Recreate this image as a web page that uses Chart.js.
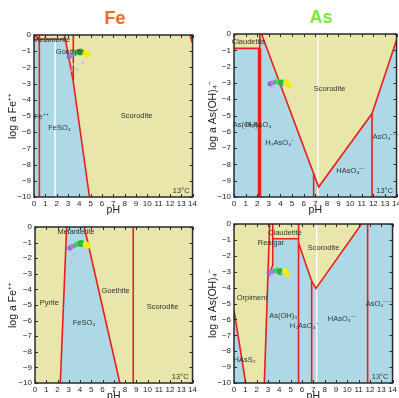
<!DOCTYPE html>
<html>
<head>
<meta charset="utf-8">
<script src="https://cdn.jsdelivr.net/npm/chart.js@4.4.1/dist/chart.umd.min.js"></script>
<style>
  html, body { margin: 0; padding: 0; background: #fff; width: 399px; height: 398px; overflow: hidden; position: relative; }
  .box { position: absolute; }
  .ttl { position: absolute; width: 60px; text-align: center; line-height: 20px; font: bold 18px "Liberation Sans", Arial, sans-serif; }
</style>
</head>
<body>
<div class="ttl" style="left:85px;top:8px;color:#ff6a1a;">Fe</div>
<div class="ttl" style="left:291px;top:7px;color:#80e63a;">As</div>
<div class="box" style="left:0px;top:27px;width:199px;height:190px;"><canvas id="feTop"></canvas></div>
<div class="box" style="left:200px;top:26px;width:203px;height:191px;"><canvas id="asTop"></canvas></div>
<div class="box" style="left:1px;top:219px;width:198px;height:184px;"><canvas id="feBot"></canvas></div>
<div class="box" style="left:200px;top:216px;width:199px;height:187px;"><canvas id="asBot"></canvas></div>
<script>
// axes
const xTickLabels = ['0','1','2','3','4','5','6','7','8','9','10','11','12','13','14'];
const yTickValues = [0, -1, -2, -3, -4, -5, -6, -7, -8, -9, -10];
const yTickLabels = ['0','−1','−2','−3','−4','−5','−6','−7','−8','−9','−10'];

// sample points (pH, log a Fe++, log a As(OH)4-)
const samplePH    = [3.1, 3.3, 3.6, 3.8, 4.1, 4.5, 4.7, 3.4, 3.8, 4.3, 3.2];
const sampleLogFe = [-1.35, -1.25, -1.15, -1.05, -1.05, -1.1, -1.2, -1.8, -2.1, -1.7, -2.2];
const sampleLogAs = [-3.05, -3.0, -2.95, -2.9, -3.0, -2.95, -3.15, -3.2, -3.25, -3.1, -3.3];
const sampleColors = ['#9a5fd0', '#b07ad8', '#4bb38a', '#5cc85a', '#22b83a', '#f2f20a', '#f0ea1a',
                      '#d2b4e6', '#dcc0e8', '#d8bce6', '#cdb0e0'];

// Fe, top panel
const feTopAqueous = [[0, -0.27], [2.77, -0.27], [3.45, -2.8], [4.9, -10], [0, -10]];
const feTopLines = [
  [[0.47, 0], [0.47, -10]],
  [[2.7, 0], [3.45, -2.8], [4.9, -10]],
  [[3.47, 0], [3.47, -2.8]],
  [[0, -0.27], [2.77, -0.27]],
  [[0.05, 0], [0.47, -0.27]],
  [[13.8, 0], [13.9, -0.3], [14, 0]]
];
const feTopFaint = [[[1.85, 0], [1.85, -10]]];
const feTopNames = ['Melanterite', 'Goethite', 'Fe⁺⁺', 'FeSO₄', 'Scorodite', '13°C'];
const feTopNameX = [1.55, 3.18, 0.65, 2.26, 9.06, 13.0];
const feTopNameY = [-0.3, -1.07, -5.08, -5.76, -4.98, -9.6];

// As, top panel
const asTopClaudetite = [[0, 0], [2.22, 0], [2.22, -0.88], [0, -0.88]];
const asTopScorodite = [[2.37, 0], [14, 0], [14, -0.37], [11.89, -4.88], [7.29, -9.39]];
const asTopLines = [
  [[0, -0.88], [2.22, -0.88]],
  [[2.22, 0], [2.22, -0.88]],
  [[2.37, 0], [7.29, -9.39], [11.89, -4.88], [14, -0.37]],
  [[6.86, -8.57], [6.86, -10]],
  [[11.89, -4.88], [11.89, -10]]
];
const asTopThick = [[[2.2, -0.88], [2.2, -10]]];
const asTopFaint = [[[7.23, 0], [7.23, -10]]];
const asTopNames = ['Claudetite', 'Scorodite', 'As(OH)₃', 'H₃AsO₄', 'H₂AsO₄⁻', 'HAsO₄⁻⁻', 'AsO₄⁻⁻⁻', '13°C'];
const asTopNameX = [1.26, 8.23, 1.1, 2.1, 3.94, 10.06, 13.1, 12.97];
const asTopNameY = [-0.49, -3.37, -5.59, -5.59, -6.71, -8.43, -6.3, -9.6];

// Fe, bottom panel
const feBotAqueous = [[2.81, 0], [4.38, 0], [7.54, -10], [2.25, -10]];
const feBotLines = [
  [[2.81, 0], [2.25, -10]],
  [[4.38, 0], [7.54, -10]],
  [[8.73, 0], [8.73, -10]]
];
const feBotNames = ['Melanterite', 'Goethite', 'Pyrite', 'Scorodite', 'FeSO₄', '13°C'];
const feBotNameX = [3.64, 7.16, 1.27, 11.33, 4.35, 12.9];
const feBotNameY = [-0.32, -4.1, -4.87, -5.13, -6.15, -9.6];

// As, bottom panel
const asBotOrpiment = [[0, 0], [3.15, 0], [2.68, -10], [1.03, -10], [0, -5.42]];
const asBotRealgar = [[3.15, 0], [3.42, 0], [3.42, -2.6], [3.0, -3.3]];
const asBotClaudetite = [[3.42, 0], [5.7, 0], [5.7, -0.93], [3.42, -0.93]];
const asBotScorodite = [[5.7, 0], [11.26, 0], [7.24, -4.05], [6.86, -3.6], [5.7, -1.2]];
const asBotLines = [
  [[0, -5.42], [1.03, -10]],
  [[3.15, 0], [2.68, -10]],
  [[3.42, 0], [3.42, -2.6], [3.0, -3.3]],
  [[3.42, -0.93], [5.7, -0.93]],
  [[5.7, 0], [5.7, -10]],
  [[5.7, -1.2], [6.86, -3.6], [7.24, -4.05], [11.26, 0]],
  [[6.86, -3.6], [6.86, -10]],
  [[11.8, 0], [11.8, -10]]
];
const asBotFaint = [[[7.3, 0], [7.3, -10]]];
const asBotNames = ['Claudetite', 'Realgar', 'Scorodite', 'Orpiment', 'As(OH)₃', 'H₂AsO₄⁻', 'HAsO₄⁻⁻', 'AsO₄⁻⁻⁻', 'HAsS₂', '13°C'];
const asBotNameX = [4.5, 3.26, 7.9, 1.6, 4.35, 6.2, 9.56, 12.8, 0.94, 12.9];
const asBotNameY = [-0.59, -1.22, -1.49, -4.66, -5.8, -6.43, -6.0, -5.04, -8.57, -9.6];

const BLUE = '#add8e6', YELLOW = '#e8e6aa', RED = '#ee1c1c';
const FONT = '"Liberation Sans", Arial, sans-serif';
Chart.defaults.font.family = FONT;
Chart.defaults.color = '#222';

const xy = pts => pts.map(p => ({x: p[0], y: p[1]}));

// fills the plot area with the background phase colour
const plotBg = {
  id: 'plotBg',
  beforeDatasetsDraw(chart, args, opts) {
    const {ctx, chartArea: a} = chart;
    ctx.save();
    ctx.fillStyle = opts.color;
    ctx.fillRect(a.left, a.top, a.right - a.left, a.bottom - a.top);
    ctx.restore();
  }
};

// phase names, placed in data units
const names = {
  id: 'names',
  afterDatasetsDraw(chart, args, opts) {
    const {ctx, scales: {x, y}} = chart;
    ctx.save();
    ctx.font = '7.5px ' + FONT;
    ctx.fillStyle = '#333';
    ctx.textAlign = 'center';
    ctx.textBaseline = 'middle';
    opts.text.forEach((t, i) => {
      ctx.fillText(t, x.getPixelForValue(opts.x[i]), y.getPixelForValue(opts.y[i]));
    });
    ctx.restore();
  }
};

// box frame with inward ticks on all four sides
const frame = {
  id: 'frame',
  afterDraw(chart) {
    const {ctx, chartArea: a, scales: {x, y}} = chart;
    ctx.save();
    ctx.strokeStyle = '#2a2a2a';
    ctx.lineWidth = 1;
    ctx.beginPath();
    xTickLabels.forEach((_, i) => {
      const px = Math.round(x.getPixelForValue(i)) + 0.5;
      ctx.moveTo(px, a.bottom); ctx.lineTo(px, a.bottom - 3);
      ctx.moveTo(px, a.top); ctx.lineTo(px, a.top + 3);
    });
    yTickValues.forEach(v => {
      const py = Math.round(y.getPixelForValue(v)) + 0.5;
      ctx.moveTo(a.left, py); ctx.lineTo(a.left + 3, py);
      ctx.moveTo(a.right, py); ctx.lineTo(a.right - 3, py);
    });
    ctx.stroke();
    ctx.lineWidth = 1.5;
    ctx.strokeRect(a.left, a.top, a.right - a.left, a.bottom - a.top);
    ctx.restore();
  }
};

function makePanel(id, p) {
  const datasets = [];
  p.patches.forEach(pts => datasets.push({
    data: xy(pts), showLine: true, fill: 'shape', backgroundColor: p.patchColor,
    borderWidth: 0, pointRadius: 0, order: 5
  }));
  (p.faint || []).forEach(pts => datasets.push({
    data: xy(pts), showLine: true, fill: false, borderColor: 'rgba(255,255,255,0.7)',
    borderWidth: 1, pointRadius: 0, order: 4
  }));
  p.lines.forEach(pts => datasets.push({
    data: xy(pts), showLine: true, fill: false, borderColor: RED,
    borderWidth: 1.6, pointRadius: 0, order: 2
  }));
  (p.thick || []).forEach(pts => datasets.push({
    data: xy(pts), showLine: true, fill: false, borderColor: RED,
    borderWidth: 3.5, pointRadius: 0, order: 2
  }));
  datasets.push({
    data: samplePH.map((v, i) => ({x: v, y: p.sampleY[i]})),
    showLine: false, backgroundColor: sampleColors, borderWidth: 0,
    pointRadius: [2.5, 2.5, 2.5, 2.5, 3.5, 3, 3, 1.5, 1.5, 1.5, 1.5], order: 0
  });

  new Chart(document.getElementById(id), {
    type: 'scatter',
    data: { datasets },
    options: {
      responsive: true,
      maintainAspectRatio: false,
      animation: false,
      events: [],
      layout: { padding: { top: 8, right: 6, bottom: 0, left: 0 } },
      scales: {
        x: {
          type: 'linear', min: 0, max: 14,
          grid: { display: false, drawTicks: false }, border: { display: false },
          ticks: { stepSize: 1, autoSkip: false, maxRotation: 0, padding: 2,
                   font: { size: 8 }, callback: v => xTickLabels[v] },
          title: { display: true, text: 'pH', font: { size: 10.5 }, padding: { top: 0, bottom: 1 } },
          afterFit: s => { s.height = 20; }
        },
        y: {
          type: 'linear', min: -10, max: 0,
          grid: { display: false, drawTicks: false }, border: { display: false },
          ticks: { stepSize: 1, autoSkip: false, padding: 3,
                   font: { size: 8 }, callback: v => yTickLabels[-v] },
          title: { display: true, text: p.yTitle, font: { size: 10.5 }, padding: { top: p.titlePad, bottom: 0 } },
          afterFit: s => { s.width = 34; }
        }
      },
      plugins: {
        legend: { display: false },
        tooltip: { enabled: false },
        plotBg: { color: p.bg },
        names: { text: p.names, x: p.nameX, y: p.nameY }
      }
    },
    plugins: [plotBg, names, frame]
  });
}

makePanel('feTop', {
  bg: YELLOW, patchColor: BLUE, patches: [feTopAqueous],
  lines: feTopLines, faint: feTopFaint, sampleY: sampleLogFe,
  yTitle: 'log a Fe⁺⁺', titlePad: 7,
  names: feTopNames, nameX: feTopNameX, nameY: feTopNameY
});
makePanel('asTop', {
  bg: BLUE, patchColor: YELLOW, patches: [asTopClaudetite, asTopScorodite],
  lines: asTopLines, thick: asTopThick, faint: asTopFaint, sampleY: sampleLogAs,
  yTitle: 'log a As(OH)₄⁻', titlePad: 7,
  names: asTopNames, nameX: asTopNameX, nameY: asTopNameY
});
makePanel('feBot', {
  bg: YELLOW, patchColor: BLUE, patches: [feBotAqueous],
  lines: feBotLines, sampleY: sampleLogFe,
  yTitle: 'log a Fe⁺⁺', titlePad: 6,
  names: feBotNames, nameX: feBotNameX, nameY: feBotNameY
});
makePanel('asBot', {
  bg: BLUE, patchColor: YELLOW, patches: [asBotOrpiment, asBotRealgar, asBotClaudetite, asBotScorodite],
  lines: asBotLines, faint: asBotFaint, sampleY: sampleLogAs,
  yTitle: 'log a As(OH)₄⁻', titlePad: 7,
  names: asBotNames, nameX: asBotNameX, nameY: asBotNameY
});
</script>
</body>
</html>
